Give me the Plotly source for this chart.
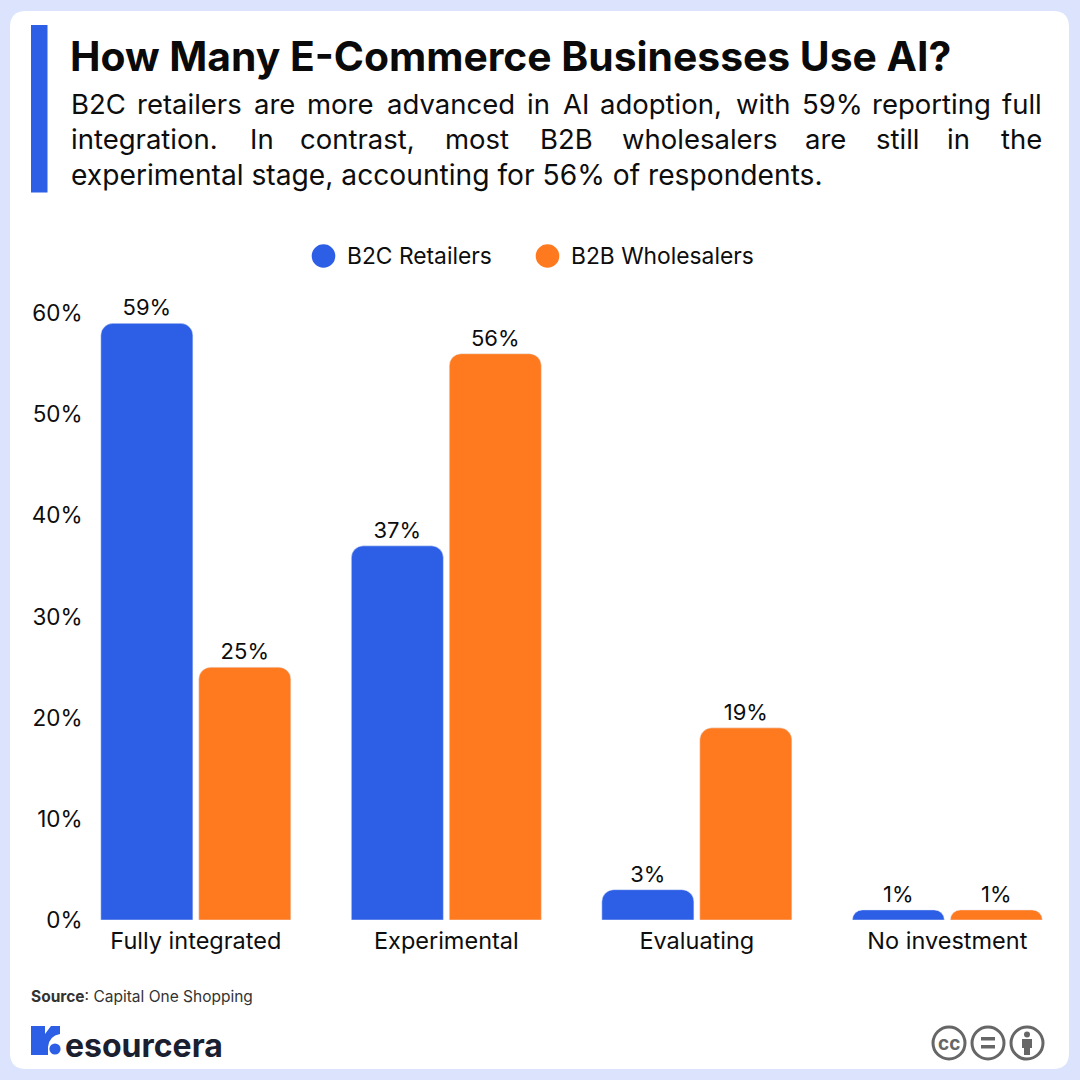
import plotly.graph_objects as go

categories = ["Fully integrated", "Experimental", "Evaluating", "No investment"]
b2c_retailers = [59, 37, 3, 1]
b2b_wholesalers = [25, 56, 19, 1]
y_ticks = [0, 10, 20, 30, 40, 50, 60]

BLUE = "#2d5fe6"
ORANGE = "#ff7a1f"
PAGE = "#dbe4fc"
INK = "#0d0d0d"
FONT = "Inter"
W = H = 1080


def px(x):
    return x / W


def py(y):
    return 1 - y / H


def path(*cmds):
    # Build an SVG path in paper fractions from pixel commands.
    out = []
    for c in cmds:
        if isinstance(c, str):
            out.append(c)
        else:
            out.append(f"{px(c[0]):.5f},{py(c[1]):.5f}")
    return " ".join(out)


def rect(x0, y0, x1, y1, color):
    return dict(type="rect", xref="paper", yref="paper", x0=px(x0), x1=px(x1),
                y0=py(y0), y1=py(y1), fillcolor=color, line_width=0, layer="below")


def circle(cx, cy, r, fill, line=None, width=0):
    return dict(type="circle", xref="paper", yref="paper",
                x0=px(cx - r), x1=px(cx + r), y0=py(cy - r), y1=py(cy + r),
                fillcolor=fill, line=dict(color=line or fill, width=width), layer="above")


def label(x, y, text, size, color=INK, anchor="left", weight=None, family=FONT):
    return dict(xref="paper", yref="paper", x=px(x), y=py(y), text=text, showarrow=False,
                xanchor=anchor, yanchor="middle", borderpad=0,
                font=dict(family=family, size=size, color=color, weight=weight))


fig = go.Figure()
fig.add_bar(name="B2C Retailers", x=categories, y=b2c_retailers, marker_color=BLUE,
            texttemplate="%{y}%", textposition="outside", cliponaxis=False, showlegend=False)
fig.add_bar(name="B2B Wholesalers", x=categories, y=b2b_wholesalers, marker_color=ORANGE,
            texttemplate="%{y}%", textposition="outside", cliponaxis=False, showlegend=False)

shapes = [
    # Card behind the chart
    dict(type="path", xref="paper", yref="paper", layer="below", fillcolor="white", line_width=0,
         path=path("M", (26, 11), "L", (1053, 11), "Q", (1069, 11), (1069, 27), "L", (1069, 1053),
                   "Q", (1069, 1069), (1053, 1069), "L", (26, 1069), "Q", (10, 1069), (10, 1053),
                   "L", (10, 27), "Q", (10, 11), (26, 11), "Z")),
    rect(31, 25, 47.5, 192.5, BLUE),
    # Legend swatches
    circle(323.5, 256, 11.8, BLUE),
    circle(547.5, 256, 11.8, ORANGE),
    # Logo mark
    dict(type="path", xref="paper", yref="paper", fillcolor=BLUE, line_width=0,
         path=path("M", (31, 1026), "L", (45, 1026), "L", (45, 1034), "L", (51, 1026), "L", (60, 1026),
                   "L", (60, 1034), "Q", (49, 1036), (48, 1047), "L", (48, 1055), "L", (31, 1055), "Z")),
    circle(55, 1049, 5.6, BLUE),
    # Licence badges
    circle(949, 1043, 16, "white", "#666666", 3),
    circle(988, 1043, 16, "white", "#666666", 3),
    circle(1027, 1043, 16, "white", "#666666", 3),
    dict(rect(981, 1037, 995, 1040.5, "#666666"), layer="above"),
    dict(rect(981, 1045, 995, 1048.5, "#666666"), layer="above"),
    circle(1027, 1034.5, 3, "#666666"),
    dict(type="path", xref="paper", yref="paper", fillcolor="#666666", line_width=0,
         path=path("M", (1022, 1039), "L", (1032, 1039), "L", (1032, 1048), "L", (1030, 1048),
                   "L", (1030, 1055), "L", (1024, 1055), "L", (1024, 1048), "L", (1022, 1048), "Z")),
]

annotations = [
    label(68.5, 55.5, "How Many E-Commerce Businesses Use AI?", 40.8, "#0a0a0a", weight=700),
    label(69.5, 175, "experimental stage, accounting for 56% of respondents.", 28.2),
    label(346, 255.5, "B2C Retailers", 22.8),
    label(570, 255.5, "B2B Wholesalers", 22.8),
    label(30, 996, "<b>Source</b>: Capital One Shopping", 15.5, "#333333"),
    label(64, 1045, "esourcera", 32, "#1b2030", weight=700),
    label(949, 1043, "cc", 19, "#666666", anchor="center", weight=700),
]

# Justified intro lines: each word is set on its own, the last one flush with the right edge.
line_one = [("B2C", 70), ("retailers", 136), ("are", 253), ("more", 306), ("advanced", 386), ("in", 526),
            ("AI", 562), ("adoption,", 599), ("with", 735), ("59%", 801), ("reporting", 871)]
line_two = [("integration.", 70), ("In", 249), ("contrast,", 299), ("most", 444), ("B2B", 539),
            ("wholesalers", 621), ("are", 804), ("still", 875), ("in", 946)]
for word, x in line_one:
    annotations.append(label(x, 104, word, 27.5))
for word, x in line_two:
    annotations.append(label(x, 139, word, 27.5))
annotations.append(label(1042.5, 104, "full", 27.5, anchor="right"))
annotations.append(label(1042.5, 139, "the", 27.5, anchor="right"))

fig.update_layout(
    width=W, height=H, margin=dict(l=0, r=0, t=0, b=0, autoexpand=False),
    paper_bgcolor=PAGE, plot_bgcolor="rgba(0,0,0,0)",
    font=dict(family=FONT, size=22, color=INK),
    barmode="group", bargap=0.218, bargroupgap=0.06, barcornerradius=12,
    showlegend=False, shapes=shapes, annotations=annotations,
    xaxis=dict(domain=[px(85.6), px(1072.6)], range=[-0.44, 3.5], showgrid=False, zeroline=False,
               showline=False, ticks="", tickfont=dict(size=23.5, color=INK), ticklabelstandoff=4),
    yaxis=dict(domain=[py(920), py(290)], range=[0, 62.3], tickvals=y_ticks,
               ticktext=[f"{v}%" for v in y_ticks], showgrid=False, zeroline=False,
               showline=False, ticks="", tickfont=dict(size=22.5, color=INK), ticklabelstandoff=2),
)
fig.write_html("out.html")
